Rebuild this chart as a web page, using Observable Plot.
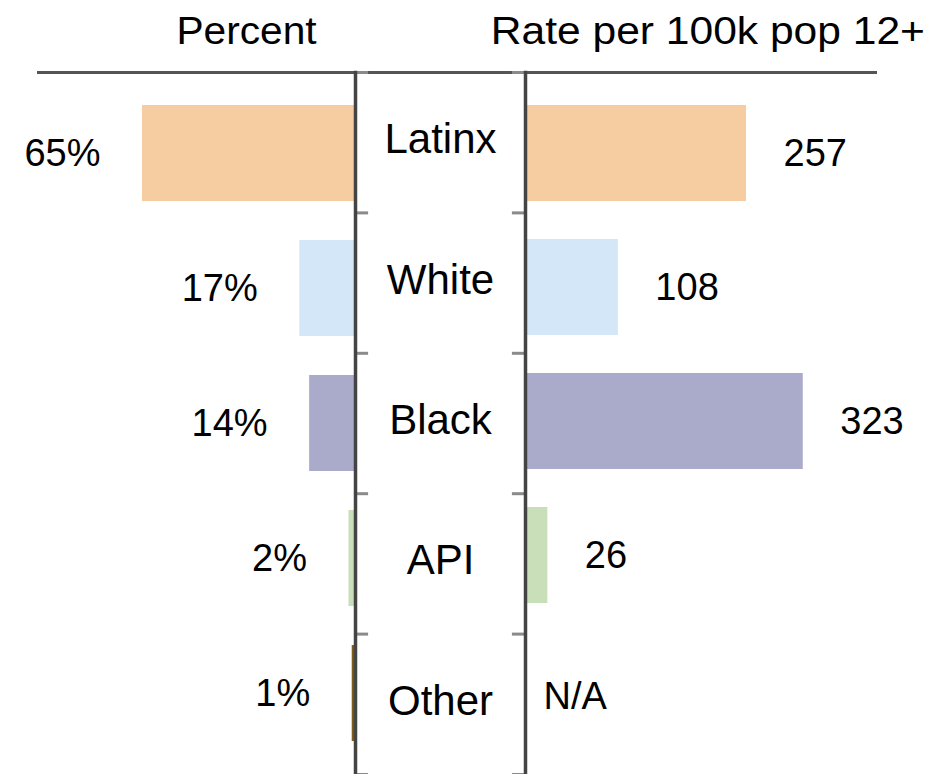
<!DOCTYPE html>
<html>
<head>
<meta charset="utf-8">
<script src="https://cdn.jsdelivr.net/npm/d3@7"></script>
<script src="https://cdn.jsdelivr.net/npm/@observablehq/plot@0.6"></script>
<style>
  html, body { margin: 0; padding: 0; background: #fff; }
  #chart { position: relative; width: 931px; height: 774px; overflow: hidden;
           font-family: "Liberation Sans", Arial, Helvetica, sans-serif; }
  #chart svg { position: absolute; left: 0; top: 0; overflow: visible; }
  .hdr { position: absolute; top: 12px; font-size: 38px; line-height: 1; color: #000;
         white-space: nowrap; transform-origin: center; }
</style>
</head>
<body>
<div id="chart"></div>
<script>
// Cases by race/ethnicity: share of cases and rate per 100k population aged 12+
const categories = ["Latinx", "White", "Black", "API", "Other"];
const percents = [65, 17, 14, 2, 1];
const rates = [257, 108, 323, 26, null];
const colors = ["#F5CDA0", "#D3E7F8", "#AAABCB", "#C9DFB9", "#7D5C1C"];
const headers = ["Percent", "Rate per 100k pop 12+"];

const rows = categories.map((cat, i) => ({cat, pct: percents[i], rate: rates[i], idx: i}));
const W = 931, H = 774;
const font = "Liberation Sans, Arial, Helvetica, sans-serif";
const color = {domain: categories, range: colors};
const chart = document.getElementById("chart");

// Left panel: percent of cases, bars growing leftward from the label column
const left = Plot.plot({
  width: W, height: H,
  marginTop: 72, marginBottom: 0, marginLeft: 38, marginRight: W - 355,
  style: {fontFamily: font, background: "transparent"},
  x: {domain: [0, 65], range: [355, 142], axis: null},
  y: {domain: categories, range: [103, 743.5], paddingInner: 0.287, paddingOuter: 0, axis: null},
  color,
  marks: [
    Plot.barX(rows, {x: "pct", y: "cat", fill: "cat"}),
    Plot.text(rows, {x: "pct", y: "cat", text: d => d.pct + "%", textAnchor: "end", dx: -42,
                     fontSize: 38, fill: "#000"}),
    Plot.frame({anchor: "top", stroke: "#555", strokeWidth: 3})
  ]
});

// Right panel: rate per 100k, bars growing rightward
const withRate = rows.filter(d => d.rate != null);
const noRate = rows.filter(d => d.rate == null);
const right = Plot.plot({
  width: W, height: H,
  marginTop: 72, marginBottom: 0, marginLeft: 525, marginRight: W - 875,
  style: {fontFamily: font, background: "transparent"},
  x: {domain: [0, 257], range: [525, 746], axis: null},
  y: {domain: categories, range: [105, 737], paddingInner: 0.284, paddingOuter: 0, axis: null},
  color,
  marks: [
    Plot.barX(withRate, {x: "rate", y: "cat", fill: "cat"}),
    Plot.text(withRate, {x: "rate", y: "cat", text: d => String(d.rate), textAnchor: "start", dx: 37,
                         fontSize: 38, fill: "#000"}),
    Plot.text(noRate, {x: 0, y: "cat", text: () => "N/A", textAnchor: "start", dx: 18, dy: 7,
                       fontSize: 38, fill: "#000"}),
    Plot.frame({anchor: "top", stroke: "#555", strokeWidth: 3})
  ]
});

// Middle column: category names between two vertical rules, with row ticks
const bounds = d3.range(categories.length + 1);
const middle = Plot.plot({
  width: W, height: H,
  marginTop: 72, marginBottom: 0, marginLeft: 355, marginRight: W - 525,
  style: {fontFamily: font, background: "transparent"},
  x: {domain: [0, 1], axis: null},
  y: {domain: [0, categories.length], reverse: true, axis: null},
  marks: [
    Plot.frame({anchor: "top", stroke: "#555", strokeWidth: 3}),
    Plot.ruleY(bounds, {x1: 0, x2: 0.077, stroke: "#8a8a8a", strokeWidth: 3}),
    Plot.ruleY(bounds, {x1: 0.923, x2: 1, stroke: "#8a8a8a", strokeWidth: 3}),
    Plot.text(rows, {y: d => d.idx + 0.5, text: "cat", frameAnchor: "middle", dy: -3,
                     fontSize: 42, fill: "#000"}),
    Plot.frame({anchor: "left", stroke: "#444", strokeWidth: 3.5}),
    Plot.frame({anchor: "right", stroke: "#444", strokeWidth: 3.5})
  ]
});

chart.append(left, right, middle);

// Column headers
const hdrCenters = [246, 707.5];
const hdrStretch = [1.07, 1.12];
headers.forEach((t, i) => {
  const el = document.createElement("div");
  el.className = "hdr";
  el.textContent = t;
  chart.append(el);
  const w = el.getBoundingClientRect().width;
  el.style.left = (hdrCenters[i] - w / 2) + "px";
  el.style.transform = `scaleX(${hdrStretch[i]})`;
});
</script>
</body>
</html>
